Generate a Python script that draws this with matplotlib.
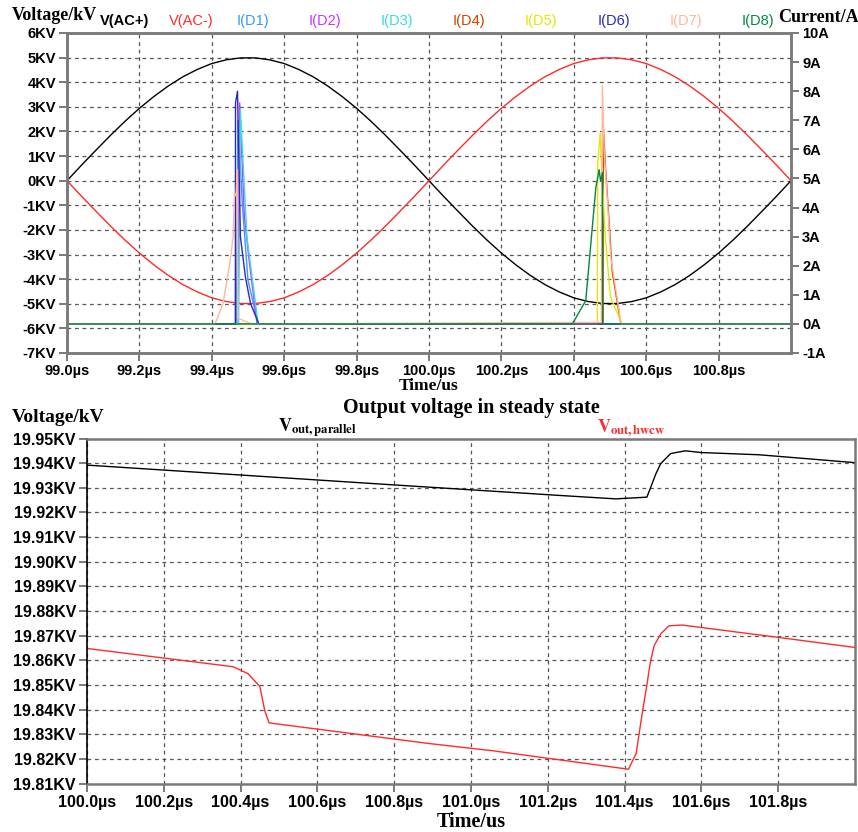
import matplotlib
matplotlib.use("Agg")
from matplotlib import pyplot as plt

plt.rcParams['font.family'] = ['Liberation Sans', 'DejaVu Sans']
plt.rcParams['mathtext.fontset'] = 'stix'

# ---- top chart: AC voltages (kV) and diode currents (A) ----
t_ac = [99.00, 99.04, 99.08, 99.12, 99.16, 99.20, 99.24, 99.28, 99.32, 99.36,
        99.40, 99.44, 99.48, 99.52, 99.56, 99.60, 99.64, 99.68, 99.72, 99.76,
        99.80, 99.84, 99.88, 99.92, 99.96, 100.00, 100.04, 100.08, 100.12, 100.16,
        100.20, 100.24, 100.28, 100.32, 100.36, 100.40, 100.44, 100.48, 100.52, 100.56,
        100.60, 100.64, 100.68, 100.72, 100.76, 100.80, 100.84, 100.88, 100.92, 100.96,
        101.00]
v_ac_plus = [0.00, 0.63, 1.24, 1.84, 2.41, 2.94, 3.42, 3.85, 4.22, 4.52,
             4.76, 4.91, 4.99, 4.99, 4.91, 4.76, 4.52, 4.22, 3.85, 3.42,
             2.94, 2.41, 1.84, 1.24, 0.63, 0.00, -0.63, -1.24, -1.84, -2.41,
             -2.94, -3.42, -3.85, -4.22, -4.52, -4.76, -4.91, -4.99, -4.99, -4.91,
             -4.76, -4.52, -4.22, -3.85, -3.42, -2.94, -2.41, -1.84, -1.24, -0.63,
             0.00]
v_ac_minus = [0.00, -0.63, -1.24, -1.84, -2.41, -2.94, -3.42, -3.85, -4.22, -4.52,
              -4.76, -4.91, -4.99, -4.99, -4.91, -4.76, -4.52, -4.22, -3.85, -3.42,
              -2.94, -2.41, -1.84, -1.24, -0.63, 0.00, 0.63, 1.24, 1.84, 2.41,
              2.94, 3.42, 3.85, 4.22, 4.52, 4.76, 4.91, 4.99, 4.99, 4.91,
              4.76, 4.52, 4.22, 3.85, 3.42, 2.94, 2.41, 1.84, 1.24, 0.63,
              0.00]

t_d1 = [99.0, 99.468, 99.472, 99.485, 99.500, 99.528, 101.0]
i_d1 = [0.0, 0.0, 7.0, 4.0, 1.5, 0.0, 0.0]
t_d2 = [99.0, 99.473, 99.477, 99.490, 99.503, 99.525, 101.0]
i_d2 = [0.0, 0.0, 7.6, 3.7, 2.2, 0.0, 0.0]
t_d3 = [99.0, 99.474, 99.479, 99.497, 99.528, 101.0]
i_d3 = [0.0, 0.0, 7.35, 3.0, 0.0, 0.0]
t_d4 = [99.0, 100.481, 100.4815, 100.488, 100.497, 100.506, 100.530, 101.0]
i_d4 = [0.0, 0.0, 6.8, 5.3, 3.6, 1.8, 0.0, 0.0]
t_d5 = [99.0, 100.465, 100.466, 100.473, 100.476, 100.487, 100.501, 100.533, 101.0]
i_d5 = [0.0, 0.0, 5.5, 6.55, 5.6, 3.0, 0.94, 0.0, 0.0]
t_d6 = [99.0, 99.465, 99.4655, 99.471, 99.474, 99.479, 99.493, 99.507, 99.530, 101.0]
i_d6 = [0.0, 0.0, 7.6, 8.0, 6.1, 3.0, 1.6, 0.7, 0.0, 0.0]
t_d7 = [99.0, 99.409, 99.431, 99.450, 99.459, 99.463, 99.467, 99.470, 99.472,
        99.490, 99.510, 100.396, 100.476, 100.479, 100.484, 100.493, 100.502, 100.531, 101.0]
i_d7 = [0.0, 0.0, 0.7, 2.1, 3.0, 4.5, 4.4, 5.3, 0.2,
        0.1, 0.0, 0.05, 0.05, 8.2, 5.9, 4.2, 2.3, 0.0, 0.0]
t_d8 = [99.0, 100.396, 100.433, 100.461, 100.470, 100.474, 100.479, 100.4795, 101.0]
i_d8 = [0.0, 0.0, 0.8, 4.7, 5.3, 4.9, 5.2, 0.0, 0.0]

diode_series = [
    ("I(D1)", t_d1, i_d1, "#3399ff"),
    ("I(D2)", t_d2, i_d2, "#cc33ff"),
    ("I(D3)", t_d3, i_d3, "#33e0e0"),
    ("I(D4)", t_d4, i_d4, "#cc4400"),
    ("I(D5)", t_d5, i_d5, "#e6e600"),
    ("I(D6)", t_d6, i_d6, "#2a2ab8"),
    ("I(D7)", t_d7, i_d7, "#ffb899"),
    ("I(D8)", t_d8, i_d8, "#008844"),
]

x_ticks_top = [99.0, 99.2, 99.4, 99.6, 99.8, 100.0, 100.2, 100.4, 100.6, 100.8]
v_ticks = [6, 5, 4, 3, 2, 1, 0, -1, -2, -3, -4, -5, -6, -7]
a_ticks = [10, 9, 8, 7, 6, 5, 4, 3, 2, 1, 0, -1]

# ---- bottom chart: output voltages (kV) ----
t_par = [100.0, 100.806, 101.23, 101.377, 101.458, 101.468, 101.481, 101.494,
         101.52, 101.558, 101.60, 101.75, 102.0]
v_par = [19.9392, 19.9311, 19.9269, 19.9255, 19.9262, 19.9302, 19.9355, 19.9398,
         19.9439, 19.9450, 19.9443, 19.9434, 19.9402]
t_hwcw = [100.0, 100.38, 100.419, 100.45, 100.463, 100.474, 100.892, 101.056,
          101.41, 101.43, 101.446, 101.457, 101.467, 101.477, 101.495, 101.516,
          101.55, 101.80, 102.0]
v_hwcw = [19.8648, 19.8574, 19.8546, 19.8494, 19.8395, 19.8346, 19.8262, 19.8233,
          19.8158, 19.8222, 19.8386, 19.8490, 19.8592, 19.8660, 19.8709, 19.8740,
          19.8743, 19.8693, 19.8652]

x_ticks_bot = [100.0, 100.2, 100.4, 100.6, 100.8, 101.0, 101.2, 101.4, 101.6, 101.8]
kv_ticks = [19.95, 19.94, 19.93, 19.92, 19.91, 19.90, 19.89, 19.88, 19.87,
            19.86, 19.85, 19.84, 19.83, 19.82, 19.81]

W, H = 858, 832
fig = plt.figure(figsize=(W / 100, H / 100), dpi=100)


def box(l, t, r, b):
    return [l / W, 1 - b / H, (r - l) / W, (b - t) / H]


def ftext(x, y, s, **kw):
    fig.text(x / W, 1 - y / H, s, **kw)


SPINE = "#7a7a7a"
GRID = dict(color="#555555", linestyle=(0, (3, 3)), linewidth=0.9)
serif = "Liberation Serif"

# top chart
ax = fig.add_axes(box(67, 33, 791, 353))
ax.plot(t_ac, v_ac_plus, color="black", lw=1.0)
ax.plot(t_ac, v_ac_minus, color="#ff2a2a", lw=1.0)
ax.set_xlim(99.0, 101.0)
ax.set_ylim(-7, 6)
ax.set_xticks(x_ticks_top)
ax.set_xticklabels([f"{v:.1f}µs" for v in x_ticks_top])
ax.set_yticks(v_ticks)
ax.set_yticklabels([f"{v}KV" for v in v_ticks])
ax.grid(True, **GRID)
for s in ax.spines.values():
    s.set_color(SPINE)
    s.set_linewidth(1.8)
ax.tick_params(direction="out", length=6, width=1.4, color=SPINE, pad=2,
               labelsize=10.5)
for lab in ax.get_xticklabels() + ax.get_yticklabels():
    lab.set_fontweight("bold")

ax2 = ax.twinx()
for name, tt, ii, col in diode_series:
    ax2.plot(tt, ii, color=col, lw=1.0)
ax2.set_ylim(-1, 10)
ax2.set_yticks(a_ticks)
ax2.set_yticklabels([f"{v}A" for v in a_ticks])
for s in ax2.spines.values():
    s.set_color(SPINE)
    s.set_linewidth(1.8)
ax2.tick_params(direction="out", length=6, width=1.4, color=SPINE, pad=2,
                labelsize=10.5)
for lab in ax2.get_yticklabels():
    lab.set_fontweight("bold")

ftext(12, 15, "Voltage/kV", family=serif, weight="bold", fontsize=13, va="center")
ftext(778, 17, "Current/A", family=serif, weight="bold", fontsize=13, va="center")
ftext(429, 386, "Time/us", family=serif, weight="bold", fontsize=12.5,
      ha="center", va="center")

legend_names = [("V(AC+)", "black", 125)] + [
    (name, col, xc) for (name, tt, ii, col), xc in
    zip(diode_series, [253, 325, 397, 469, 541, 614, 686, 758])]
legend_names.insert(1, ("V(AC-)", "#ff2a2a", 191))
for name, col, xc in legend_names:
    ftext(xc, 21, name, color=col, fontsize=10.5, ha="center", va="center",
          weight="bold" if name == "V(AC+)" else "normal")

# bottom chart
bx = fig.add_axes(box(87, 438.5, 855, 783.5))
bx.plot(t_par, v_par, color="black", lw=1.0)
bx.plot(t_hwcw, v_hwcw, color="#ff2a2a", lw=1.0)
bx.set_xlim(100.0, 102.0)
bx.set_ylim(19.81, 19.95)
bx.set_xticks(x_ticks_bot)
bx.set_xticklabels([f"{v:.1f}µs" for v in x_ticks_bot])
bx.set_yticks(kv_ticks)
bx.set_yticklabels([f"{v:.2f}KV" for v in kv_ticks])
bx.grid(True, **GRID)
for s in bx.spines.values():
    s.set_color(SPINE)
    s.set_linewidth(1.8)
bx.spines["left"].set_color("black")
bx.spines["left"].set_linewidth(1.2)
bx.tick_params(direction="out", length=6, width=1.4, color=SPINE, pad=2,
               labelsize=11.5)
for lab in bx.get_xticklabels() + bx.get_yticklabels():
    lab.set_fontweight("bold")

ftext(12, 418, "Voltage/kV", family=serif, weight="bold", fontsize=14, va="center")
ftext(471, 408, "Output voltage in steady state", family=serif, weight="bold",
      fontsize=14.5, ha="center", va="center")
ftext(471, 822, "Time/us", family=serif, weight="bold", fontsize=14.5,
      ha="center", va="center")
ftext(278, 428, r"$\mathbf{V}_{\mathbf{out,parallel}}$", fontsize=13, va="center")
ftext(597, 428, r"$\mathbf{V}_{\mathbf{out,hwcw}}$", fontsize=13, va="center",
      color="#ff2a2a")

fig.savefig("out.png", dpi=100)
